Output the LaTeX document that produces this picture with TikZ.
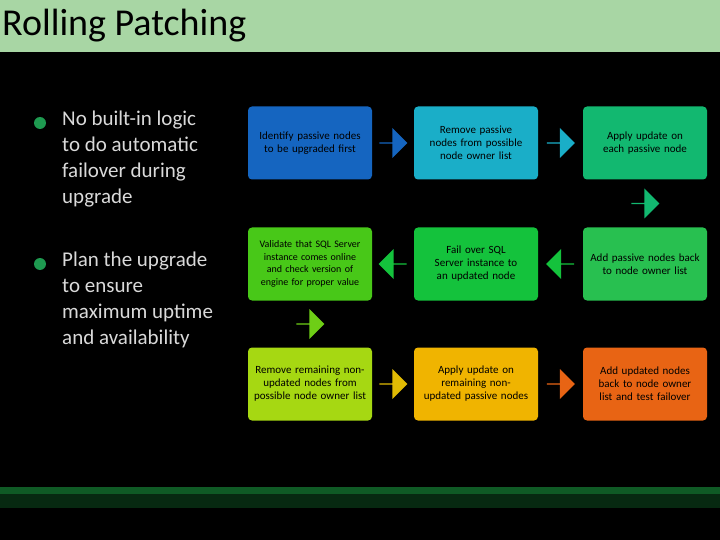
\documentclass[tikz,border=0pt]{standalone}
\usepackage{fontspec}
\setmainfont{Carlito}
\usetikzlibrary{shapes.arrows}
\definecolor{tbar}{HTML}{A8D6A4}
\definecolor{c1}{HTML}{1565C0}
\definecolor{c2}{HTML}{1AAEC8}
\definecolor{c3}{HTML}{12B870}
\definecolor{c4}{HTML}{28C050}
\definecolor{c5}{HTML}{14C23C}
\definecolor{c6}{HTML}{48C818}
\definecolor{c7}{HTML}{A6D812}
\definecolor{c8}{HTML}{F0B400}
\definecolor{c9}{HTML}{E86414}
\definecolor{bul}{HTML}{1E9A50}
\definecolor{band}{HTML}{0F5A25}
\tikzset{
 stepbox/.style={rounded corners=4pt, minimum width=124pt, minimum height=73pt, align=center, text width=112pt, font=\fontsize{11}{13}\selectfont, text=black, inner sep=2pt},
 blk/.style={single arrow, minimum height=28pt, minimum width=30pt, single arrow head extend=5pt, inner sep=0pt},
 bultext/.style={anchor=north west, align=left, text=black!15, font=\fontsize{21}{26}\selectfont, inner sep=0pt},
}
\begin{document}
\begin{tikzpicture}[x=1pt,y=-1pt]
\fill[black] (0,0) rectangle (720,540);
\useasboundingbox (0,0) rectangle (720,540);
\fill[tbar] (0,0) rectangle (720,52);
\node[anchor=west, font=\fontsize{38}{40}\selectfont, inner sep=0pt] (title) at (2,26) {Rolling Patching};
\fill[band] (0,487) rectangle (720,494);
\fill[band!45!black] (0,494) rectangle (720,508);
\fill[bul] (40,123) circle (6);
\fill[bul] (40,264) circle (6);
\node[bultext] (b1) at (62,111) {No built-in logic\\to do automatic\\failover during\\upgrade};
\node[bultext] (b2) at (62,252) {Plan the upgrade\\to ensure\\maximum uptime\\and availability};
\node[stepbox, fill=c1, minimum width=124pt] (n1) at (310,143) {Identify passive nodes to be upgraded first};
\node[stepbox, fill=c2] (n2) at (476,143) {Remove passive nodes from possible node owner list};
\node[stepbox, fill=c3] (n3) at (645,143) {Apply update on each passive node};
\node[stepbox, fill=c6, font=\fontsize{10}{12.5}\selectfont] (n6) at (310,264) {Validate that SQL Server instance comes online and check version of engine for proper value};
\node[stepbox, fill=c5] (n5) at (476,264) {Fail over SQL Server instance to an updated node};
\node[stepbox, fill=c4] (n4) at (645,264) {Add passive nodes back to node owner list};
\node[stepbox, fill=c7] (n7) at (310,384) {Remove remaining non-updated nodes from possible node owner list};
\node[stepbox, fill=c8] (n8) at (476,384) {Apply update on remaining non-updated passive nodes};
\node[stepbox, fill=c9] (n9) at (645,384) {Add updated nodes back to node owner list and test failover};
\path (n1) -- node[blk, fill=c1] (a1) {} (n2);
\path (n2) -- node[blk, fill=c2] (a2) {} (n3);
\path (n3) -- node[blk, fill=c3, shape border rotate=-90] (a3) {} (n4);
\path (n4) -- node[blk, fill=c5, shape border rotate=180] (a4) {} (n5);
\path (n5) -- node[blk, fill=c5, shape border rotate=180] (a5) {} (n6);
\path (n6) -- node[blk, fill=c6!60!c7, shape border rotate=-90] (a6) {} (n7);
\path (n7) -- node[blk, fill=c8!80!c7] (a7) {} (n8);
\path (n8) -- node[blk, fill=c9] (a8) {} (n9);
\end{tikzpicture}
\end{document}
